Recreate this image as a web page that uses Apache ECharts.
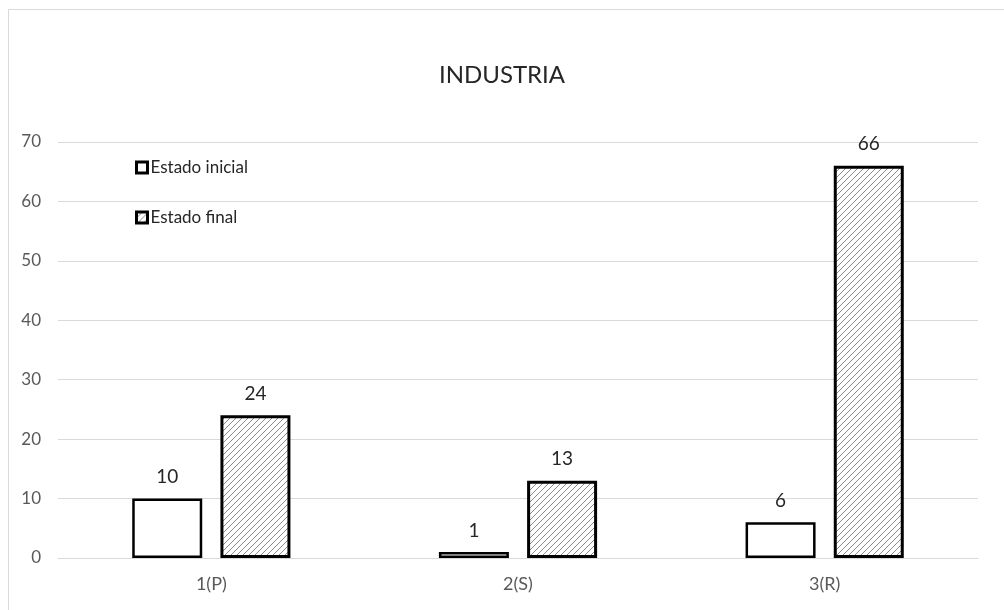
<!DOCTYPE html>
<html>
<head>
<meta charset="utf-8">
<script src="https://cdn.jsdelivr.net/npm/echarts@6/dist/echarts.min.js"></script>
<style>
  html, body { margin: 0; padding: 0; background: #ffffff; }
  #chart { width: 1004px; height: 610px; }
</style>
</head>
<body>
<div id="chart"></div>
<script>
// Categories and values per state
const categories = ['1(P)', '2(S)', '3(R)'];
const estadoInicial = [10, 1, 6];
const estadoFinal = [24, 13, 66];
const yTicks = { min: 0, max: 70, interval: 10 };

// Diagonal hatch fill for the final state bars
function hatchPattern() {
  const size = 6;
  const c = document.createElement('canvas');
  c.width = size; c.height = size;
  const ctx = c.getContext('2d');
  ctx.fillStyle = '#ffffff';
  ctx.fillRect(0, 0, size, size);
  ctx.strokeStyle = '#8c8c8c';
  ctx.lineWidth = 1;
  ctx.beginPath();
  ctx.moveTo(0, size); ctx.lineTo(size, 0);
  ctx.moveTo(-size / 2, size / 2); ctx.lineTo(size / 2, -size / 2);
  ctx.moveTo(size / 2, size * 1.5); ctx.lineTo(size * 1.5, size / 2);
  ctx.stroke();
  return c;
}

const font = 'Lato, "Open Sans", sans-serif';
const hatch = hatchPattern();
const chart = echarts.init(document.getElementById('chart'));

chart.setOption({
  animation: false,
  backgroundColor: '#ffffff',
  graphic: [{
    type: 'rect',
    shape: { x: 8.5, y: 9.5, width: 1100, height: 700 },
    style: { fill: 'none', stroke: '#d9d9d9', lineWidth: 1 },
    silent: true,
    z: -1
  }],
  title: {
    text: 'INDUSTRIA',
    left: 'center',
    top: 58,
    textStyle: { fontFamily: font, fontSize: 24, fontWeight: 'normal', color: '#262626' }
  },
  legend: {
    orient: 'vertical',
    left: 130,
    top: 154,
    itemWidth: 11,
    itemHeight: 11,
    itemGap: 33,
    icon: 'rect',
    textStyle: { fontFamily: font, fontSize: 17, color: '#262626', padding: [0, 0, 0, -2] },
    data: [
      { name: 'Estado inicial', itemStyle: { borderColor: '#000000', borderWidth: 3 } },
      { name: 'Estado final', itemStyle: { borderColor: '#000000', borderWidth: 3 } }
    ]
  },
  grid: { left: 58, right: 26, top: 142, bottom: 52 },
  xAxis: {
    type: 'category',
    data: categories,
    axisLine: { show: true, lineStyle: { color: '#d9d9d9', width: 1 } },
    axisTick: { show: false },
    axisLabel: { fontFamily: font, fontSize: 18, color: '#595959', margin: 17 }
  },
  yAxis: {
    type: 'value',
    min: yTicks.min,
    max: yTicks.max,
    interval: yTicks.interval,
    axisLine: { show: false },
    axisTick: { show: false },
    axisLabel: { fontFamily: font, fontSize: 17, color: '#595959', margin: 17 },
    splitLine: { lineStyle: { color: '#d9d9d9', width: 1 } }
  },
  series: [
    {
      name: 'Estado inicial',
      type: 'bar',
      data: estadoInicial,
      barWidth: 70,
      barGap: '26%',
      itemStyle: { color: '#ffffff', borderColor: '#000000', borderWidth: 2.5 },
      label: {
        show: true, position: 'top', distance: 12,
        fontFamily: font, fontSize: 19, color: '#262626'
      }
    },
    {
      name: 'Estado final',
      type: 'bar',
      data: estadoFinal,
      barWidth: 70,
      itemStyle: {
        color: { image: hatch, repeat: 'repeat' },
        borderColor: '#000000', borderWidth: 3
      },
      label: {
        show: true, position: 'top', distance: 12,
        fontFamily: font, fontSize: 19, color: '#262626'
      }
    }
  ]
});
</script>
</body>
</html>
